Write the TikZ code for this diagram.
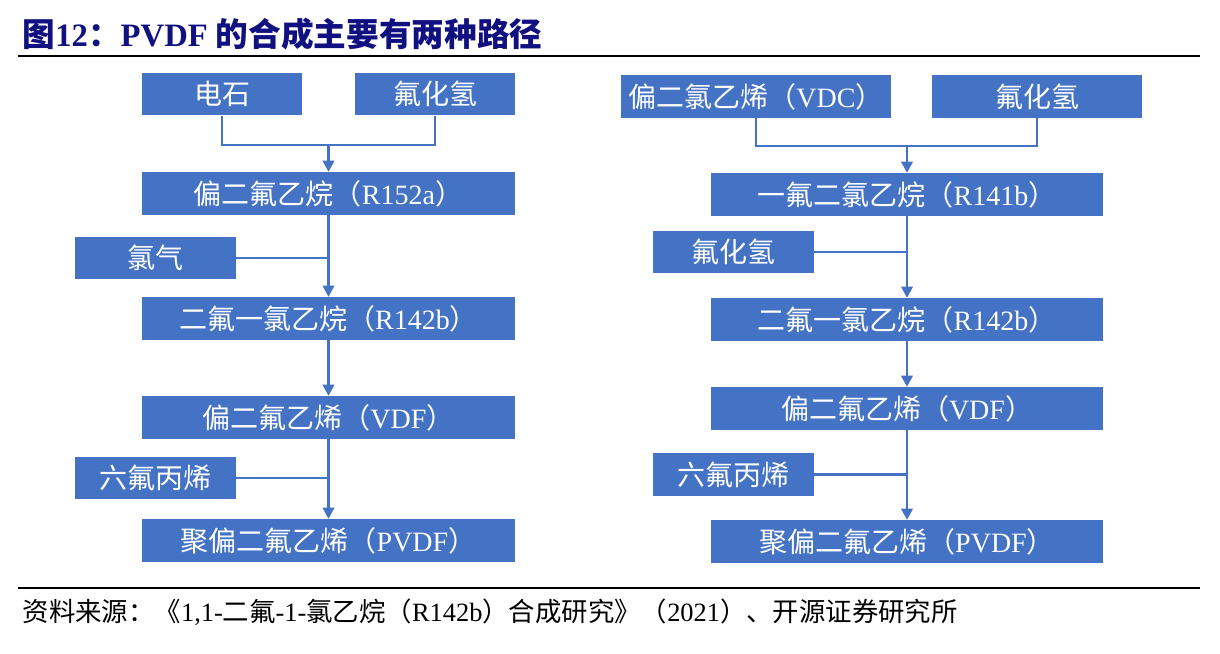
\documentclass[tikz,border=0pt]{standalone}
\usepackage{fontspec}
\setmainfont{Liberation Serif}
\newfontfamily\cjk{Noto Sans CJK SC}
\usepackage{tikz}
\usetikzlibrary{arrows.meta,positioning,calc}
\definecolor{boxblue}{RGB}{68,114,196}
\definecolor{titlenavy}{RGB}{16,16,128}
\newcommand{\zh}[1]{{\cjk #1}}

\begin{document}
\begin{tikzpicture}[
		x=0.75pt, y=-0.75pt,
		>={Triangle[length=8.5pt,width=8.5pt]},
		chembox/.style={fill=boxblue, text=white, inner sep=0pt, minimum height=32pt, font=\fontsize{21}{24}\selectfont},
		mainbox/.style={chembox, minimum width=279.75pt},
		mainboxr/.style={chembox, minimum width=294pt},
		sidebox/.style={chembox, minimum width=120.75pt},
		link/.style={draw=boxblue, line width=2.2pt},
		flow/.style={link, ->}
		]
		\useasboundingbox (0,0) rectangle (1220,653);
		
		% title and rules
		\node[anchor=west, text=titlenavy, font=\fontsize{24.5}{28}\selectfont\bfseries] (title) at (18,34) {\zh{图}12\zh{：}PVDF \zh{的合成主要有两种路径}};
		\draw[line width=1.5pt] (18,56) -- (1200,56);
		\draw[line width=1.5pt] (18,588) -- (1200,588);
		\node[anchor=west, font=\fontsize{19.8}{23}\selectfont] (source) at (18,612) {\zh{资料来源：《}1,1-\zh{二氟}-1-\zh{氯乙烷（}R142b\zh{）合成研究》（}2021\zh{）、开源证券研究所}};
		
		% left route
		\node[chembox, minimum width=120pt] (carbide) at (222,94) {\zh{电石}};
		\node[chembox, minimum width=120pt] (hfa) at (435,94) {\zh{氟化氢}};
		\node[mainbox] (rA) at (328.5,193.5) {\zh{偏二氟乙烷（}R152a\zh{）}};
		\node[sidebox] (chlorine) at (155.5,258) {\zh{氯气}};
		\node[mainbox] (rB) at (328.5,318.5) {\zh{二氟一氯乙烷（}R142b\zh{）}};
		\node[mainbox] (vdfA) at (328.5,417.5) {\zh{偏二氟乙烯（}VDF\zh{）}};
		\node[sidebox] (hfpA) at (155.5,478) {\zh{六氟丙烯}};
		\node[mainbox] (pvdfA) at (328.5,540.5) {\zh{聚偏二氟乙烯（}PVDF\zh{）}};
		
		% right route
		\node[chembox, minimum width=202.5pt] (vdc) at (756,96.5) {\zh{偏二氯乙烯（}VDC\zh{）}};
		\node[chembox, minimum width=157.5pt] (hfb) at (1037,96.5) {\zh{氟化氢}};
		\node[mainboxr] (rC) at (907,194.5) {\zh{一氟二氯乙烷（}R141b\zh{）}};
		\node[sidebox] (hfc) at (733.5,252) {\zh{氟化氢}};
		\node[mainboxr] (rD) at (907,319.5) {\zh{二氟一氯乙烷（}R142b\zh{）}};
		\node[mainboxr] (vdfB) at (907,408.5) {\zh{偏二氟乙烯（}VDF\zh{）}};
		\node[sidebox] (hfpB) at (733.5,474.5) {\zh{六氟丙烯}};
		\node[mainboxr] (pvdfB) at (907,541.5) {\zh{聚偏二氟乙烯（}PVDF\zh{）}};
		
		% connectors, left
		\coordinate (jA) at (328.5,145);
		\draw[link] (carbide.south) |- (jA) -| (hfa.south);
		\draw[flow] (jA) -- (rA.north);
		\draw[link] (chlorine.east) -- (chlorine.east -| rA.south);
		\draw[flow] (rA.south) -- (rB.north);
		\draw[flow] (rB.south) -- (vdfA.north);
		\draw[link] (hfpA.east) -- (hfpA.east -| vdfA.south);
		\draw[flow] (vdfA.south) -- (pvdfA.north);
		
		% connectors, right
		\coordinate (jB) at (907,146);
		\draw[link] (vdc.south) |- (jB) -| (hfb.south);
		\draw[flow] (jB) -- (rC.north);
		\draw[link] (hfc.east) -- (hfc.east -| rC.south);
		\draw[flow] (rC.south) -- (rD.north);
		\draw[flow] (rD.south) -- (vdfB.north);
		\draw[link] (hfpB.east) -- (hfpB.east -| vdfB.south);
		\draw[flow] (vdfB.south) -- (pvdfB.north);
		
	\end{tikzpicture}
\end{document}
